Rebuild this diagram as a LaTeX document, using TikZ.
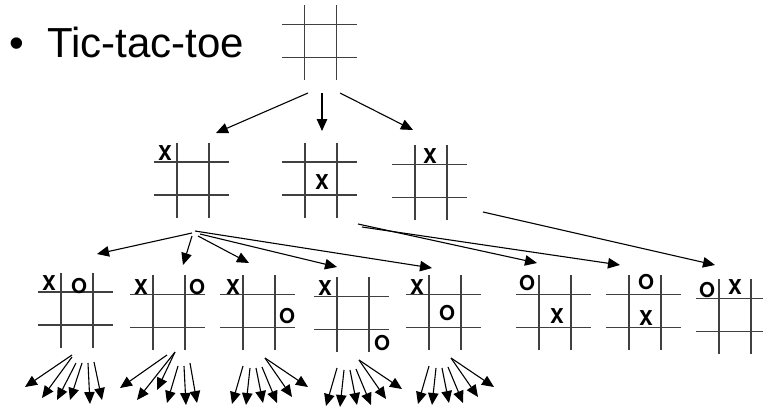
\documentclass[tikz,border=0pt]{standalone}
\usepackage{fontspec}
\setmainfont{Liberation Sans}
\newfontfamily\piecefont{TeX Gyre Heros}
\usetikzlibrary{arrows.meta}

\tikzset{
  boardline/.style={line width=1.4pt, black!75},
  piece/.style={font=\piecefont\bfseries\fontsize{20.5}{20.5}\selectfont, inner sep=0pt},
  move/.style={-{Triangle[length=12pt,width=10.5pt]}, line width=1.1pt},
}

% a 3x3 board with its centre at (#2,#3)
\newcommand{\board}[3]{%
  \coordinate (#1) at (#2,#3);
  \draw[boardline] ([shift={(-39,-16.5)}]#1) -- ++(75,0)
                   ([shift={(-39,16.5)}]#1) -- ++(75,0)
                   ([shift={(-16,-36)}]#1) -- ++(0,75)
                   ([shift={(16,-36)}]#1) -- ++(0,75);
}

\begin{document}
\begin{tikzpicture}[x=1pt,y=-1pt]
  \useasboundingbox (0,0) rectangle (763,408);
  \node[anchor=base, font=\fontsize{42}{42}\selectfont, inner sep=0pt] (dot) at (17,57) {•};
  \node[anchor=base west, font=\fontsize{42}{42}\selectfont, inner sep=0pt] (title) at (47,57) {Tic-tac-toe};

  % boards
  \board{top}{320.5}{41}
  \board{bA}{193}{178.5}
  \board{bB}{321}{178.5}
  \board{bC}{431}{181}
  \board{b1}{77}{308.5}
  \board{b2}{169}{311}
  \board{b3}{259}{311}
  \board{b4}{353}{313}
  \board{b5}{445}{311}
  \board{b6}{555}{311}
  \board{b7}{645}{311}
  \board{b8}{735}{315}

  % pieces
  \node[piece] (xA) at ([shift={(-28,-25.5)}]bA) {X};
  \node[piece] (xB) at ([shift={(1,3.5)}]bB) {X};
  \node[piece] (xC) at ([shift={(-1,-25)}]bC) {X};
  \node[piece] (x1) at ([shift={(-28,-25.5)}]b1) {X};
  \node[piece] (o1) at ([shift={(2,-22.5)}]b1) {O};
  \node[piece] (x2) at ([shift={(-28,-24)}]b2) {X};
  \node[piece] (o2) at ([shift={(28,-24)}]b2) {O};
  \node[piece] (x3) at ([shift={(-26,-24)}]b3) {X};
  \node[piece] (o3) at ([shift={(28,5)}]b3) {O};
  \node[piece] (x4) at ([shift={(-28,-25)}]b4) {X};
  \node[piece] (o4) at ([shift={(29,30)}]b4) {O};
  \node[piece] (x5) at ([shift={(-28,-24)}]b5) {X};
  \node[piece] (o5) at ([shift={(2,2)}]b5) {O};
  \node[piece] (o6) at ([shift={(-28,-28)}]b6) {O};
  \node[piece] (x6) at ([shift={(2,5)}]b6) {X};
  \node[piece] (o7) at ([shift={(1,-29)}]b7) {O};
  \node[piece] (x7) at ([shift={(1,7)}]b7) {X};
  \node[piece] (o8) at ([shift={(-28,-25)}]b8) {O};
  \node[piece] (x8) at ([shift={(0,-28)}]b8) {X};

  % first move
  \draw[move] ([shift={(-12.5,52)}]top) -- ([shift={(23,-45.5)}]bA);
  \draw[move] ([shift={(1.5,52)}]top) -- ([shift={(1,-47.5)}]bB);
  \draw[move] ([shift={(19.5,52)}]top) -- ([shift={(-18,-51)}]bC);

  % second move
  \draw[move] ([shift={(-1,54.5)}]bA) -- ([shift={(20,-54.5)}]b1);
  \draw[move] ([shift={(-1,57.5)}]bA) -- ([shift={(14,-46)}]b2);
  \draw[move] ([shift={(5,57.5)}]bA) -- ([shift={(-10,-48)}]b3);
  \draw[move] ([shift={(7,55.5)}]bA) -- ([shift={(-16,-46)}]b4);
  \draw[move] ([shift={(2,52.5)}]bA) -- ([shift={(-13,-43)}]b5);
  \draw[move] ([shift={(37,45.5)}]bB) -- ([shift={(-18,-48)}]b6);
  \draw[move] ([shift={(41,48.5)}]bB) -- ([shift={(-25,-46)}]b7);
  \draw[move] ([shift={(52,31)}]bC) -- ([shift={(-20,-50)}]b8);

  % third move, fanned out
  \foreach \sx/\sy/\tx/\ty in {-5/46.5/-52/78.5, -5/48.5/-35/89.5, -1/54.5/-20/91.5,
                               5/54.5/-7/91.5, 11/54.5/13/95.5, 17/53.5/25/91.5}
    \draw[move] ([shift={(\sx,\sy)}]b1) -- ([shift={(\tx,\ty)}]b1);
  \foreach \sx/\sy/\tx/\ty in {-2/44/-49/77, 6/41/-32/89, 6/41/-12/79,
                               9/55/-2/92, 15/55/17/94, 21/52/28/92}
    \draw[move] ([shift={(\sx,\sy)}]b2) -- ([shift={(\tx,\ty)}]b2);
  \foreach \b in {b3,b4,b5}
    \foreach \sx/\sy/\tx/\ty in {-16/55/-27/93, -9/57/-13/94, -3/57/4/92,
                                 3/56/18/92, 6/47/33/86, 6/47/49/76}
      \draw[move] ([shift={(\sx,\sy)}]\b) -- ([shift={(\tx,\ty)}]\b);
\end{tikzpicture}
\end{document}
